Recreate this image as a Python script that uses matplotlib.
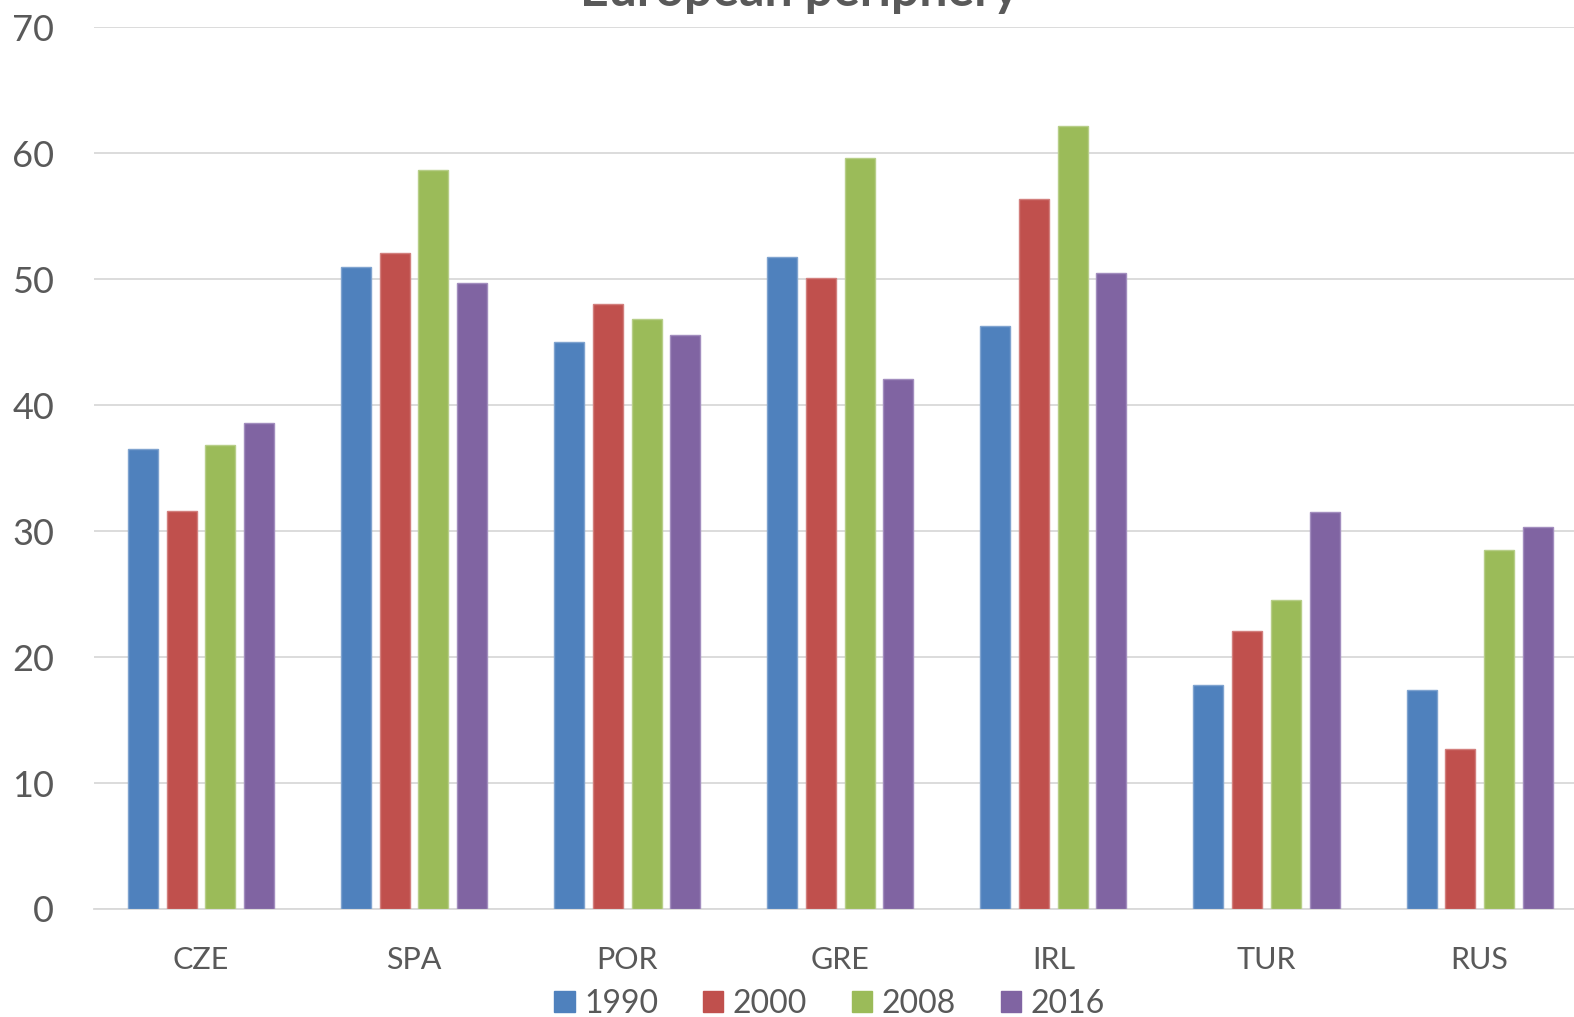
import matplotlib
matplotlib.use("Agg")
import matplotlib.pyplot as plt
from matplotlib.patches import Patch
import numpy as np

plt.rcParams['font.family'] = ['Lato', 'DejaVu Sans']

countries = ["CZE", "SPA", "POR", "GRE", "IRL", "TUR", "RUS"]
years = ["1990", "2000", "2008", "2016"]
v1990 = [36.5, 51.0, 45.0, 51.8, 46.3, 17.8, 17.4]
v2000 = [31.6, 52.1, 48.0, 50.1, 56.4, 22.1, 12.7]
v2008 = [36.8, 58.7, 46.8, 59.6, 62.2, 24.5, 28.5]
v2016 = [38.6, 49.7, 45.6, 42.1, 50.5, 31.5, 30.3]
series = [v1990, v2000, v2008, v2016]
colors = ["#4F81BD", "#C0504D", "#9BBB59", "#8064A2"]
edges = ["#7FA3CF", "#D27F7D", "#B7CE88", "#A28DBE"]

text_color = "#595959"
grid_color = "#D9D9D9"

fig = plt.figure(figsize=(15.74, 10.17), dpi=100)
ax = fig.add_axes([0.0600, 0.1062, 0.9477, 0.8670])

x = np.arange(len(countries))
step = 0.1816
width = 0.1408
for i, (vals, c, ec) in enumerate(zip(series, colors, edges)):
    ax.bar(x + (i - 1.5) * step, vals, width=width, color=c,
           edgecolor=ec, linewidth=1.0, zorder=3)

ax.set_xlim(-0.5, len(countries) - 0.5)
ax.set_ylim(0, 70)
ax.set_yticks(np.arange(0, 71, 10))
ax.set_xticks(x)
ax.set_xticklabels(countries)

ax.yaxis.grid(True, color=grid_color, linewidth=1.3, zorder=0)
ax.set_axisbelow(True)
for side in ["top", "right", "left"]:
    ax.spines[side].set_visible(False)
ax.spines["bottom"].set_color(grid_color)
ax.spines["bottom"].set_linewidth(1.3)

ax.tick_params(axis="y", length=0, pad=29, labelsize=26, labelcolor=text_color)
ax.tick_params(axis="x", length=0, pad=27, labelsize=22, labelcolor=text_color)

fig.text(0.508, 0.994, "European periphery", ha="center", va="baseline",
         fontsize=36, fontweight="bold", color=text_color)

handles = [Patch(facecolor=c, edgecolor=c) for c in colors]
leg = fig.legend(handles, years, loc="center", bbox_to_anchor=(0.527, 0.0128),
                 ncol=4, frameon=False, fontsize=23, handlelength=0.63,
                 handleheight=0.63, handletextpad=0.3, columnspacing=1.4,
                 borderpad=0, borderaxespad=0)
for t in leg.get_texts():
    t.set_color(text_color)

fig.savefig("out.png", dpi=100)
